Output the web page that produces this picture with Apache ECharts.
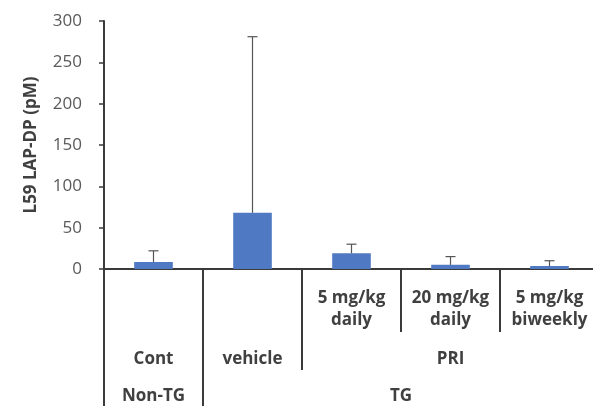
<!DOCTYPE html>
<html>
<head>
<meta charset="utf-8">
<script src="https://cdn.jsdelivr.net/npm/echarts@6/dist/echarts.min.js"></script>
<style>html,body{margin:0;padding:0;background:#fff}#c{width:593px;height:406px}</style>
</head>
<body>
<div id="c"></div>
<script>
// ---- data ----
var categories = ['Cont', 'vehicle', '5 mg/kg daily', '20 mg/kg daily', '5 mg/kg biweekly'];
var level1Labels = ['', '', '5 mg/kg\ndaily', '20 mg/kg\ndaily', '5 mg/kg\nbiweekly'];
var level2Groups = [['Cont', 1], ['vehicle', 1], ['PRI', 3]];
var level3Groups = [['Non-TG', 1], ['TG', 4]];
var means = [8.5, 68, 19, 5, 3.5];
var errUp = [13.5, 213, 11, 10, 6.5];
var yTicks = [0, 50, 100, 150, 200, 250, 300];
var yTitle = 'L59 LAP-DP (pM)';

// ---- derived group positions (in category units) ----
function groupInfo(groups) {
  var centers = [], bounds = [], start = 0, lab = {};
  groups.forEach(function (g) {
    bounds.push(start);
    var c = start + g[1] / 2;
    centers.push(c);
    lab[c] = g[0];
    start += g[1];
  });
  return { centers: centers, bounds: bounds, lab: lab };
}
var g2 = groupInfo(level2Groups);
var g3 = groupInfo(level3Groups);
var n = categories.length;
// boundaries of level-1 only (not shared with level2 bounds)
var l1Bounds = [];
for (var i = 1; i < n; i++) if (g2.bounds.indexOf(i) < 0 && g3.bounds.indexOf(i) < 0) l1Bounds.push(i);
var l2Bounds = g2.bounds.filter(function (b) { return g3.bounds.indexOf(b) < 0; });

var txt = '#404040';
var lineCol = '#3a3a3a';
var font = '"Open Sans", "Liberation Sans", sans-serif';

function valAxis(ticks, labelVals, labMap, tickLen, margin) {
  return {
    type: 'value', gridIndex: 0, position: 'bottom', min: 0, max: n,
    axisLine: { show: false },
    splitLine: { show: false },
    axisTick: { show: true, customValues: ticks, length: tickLen, lineStyle: { color: lineCol, width: 2 } },
    axisLabel: {
      show: labelVals.length > 0, customValues: labelVals, margin: margin,
      formatter: function (v) { return labMap[v] || ''; },
      fontFamily: font, fontSize: 17, fontWeight: 'bold', color: txt, lineHeight: 22,
      verticalAlign: 'top'
    }
  };
}

var chart = echarts.init(document.getElementById('c'), null, { renderer: 'canvas' });
chart.setOption({
  animation: false,
  backgroundColor: '#ffffff',
  grid: { left: 104, right: -6, top: 21, bottom: 137, outerBoundsMode: 'none' },
  xAxis: [
    {
      type: 'category', data: categories, position: 'bottom',
      axisLine: { show: true, lineStyle: { color: lineCol, width: 2 } },
      axisTick: { show: false },
      axisLabel: {
        interval: 0, margin: 18,
        formatter: function (v, idx) { return level1Labels[idx]; },
        fontFamily: font, fontSize: 17, fontWeight: 'bold', color: txt, lineHeight: 22,
        verticalAlign: 'top'
      }
    },
    valAxis(g3.bounds, g3.centers, g3.lab, 137, 116),
    valAxis(l2Bounds, g2.centers.filter(function (c) { return true; }), g2.lab, 101, 79),
    valAxis(l1Bounds, [], {}, 63, 10)
  ],
  yAxis: {
    type: 'value', min: 0, max: 300, interval: 50,
    axisLine: { show: true, lineStyle: { color: lineCol, width: 2 } },
    axisTick: { show: true, length: 5, lineStyle: { color: lineCol, width: 1.5 } },
    splitLine: { show: false },
    axisLabel: {
      margin: 22, fontFamily: font, fontSize: 17, color: '#595959',
      customValues: yTicks
    },
    name: yTitle, nameLocation: 'middle', nameRotate: 90, nameGap: 64,
    nameTextStyle: { fontFamily: font, fontSize: 17, fontWeight: 'bold', color: txt }
  },
  series: [
    {
      type: 'bar', data: means, barWidth: '39%', xAxisIndex: 0,
      itemStyle: { color: '#5079c3' }
    },
    {
      type: 'custom', xAxisIndex: 0,
      data: means.map(function (m, i) { return [i, m, m + errUp[i]]; }),
      renderItem: function (params, api) {
        var p0 = api.coord([api.value(0), api.value(1)]);
        var p1 = api.coord([api.value(0), api.value(2)]);
        var hw = 5;
        return {
          type: 'group',
          children: [
            { type: 'line', shape: { x1: p0[0], y1: p0[1], x2: p1[0], y2: p1[1] }, style: { stroke: '#555', lineWidth: 1.2 } },
            { type: 'line', shape: { x1: p1[0] - hw, y1: p1[1], x2: p1[0] + hw, y2: p1[1] }, style: { stroke: '#555', lineWidth: 1.2 } }
          ]
        };
      },
      z: 3
    }
  ]
});
</script>
</body>
</html>
